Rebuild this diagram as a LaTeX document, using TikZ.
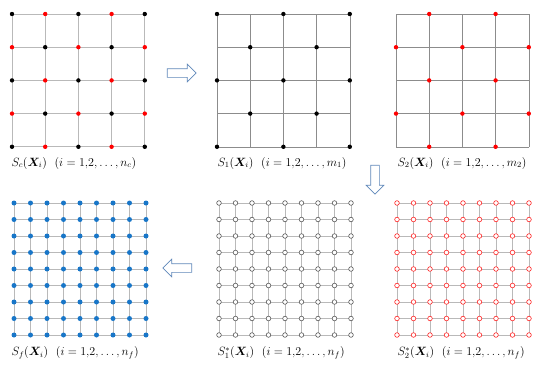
\documentclass[tikz,border=0pt]{standalone}
\usepackage{amsmath,amssymb,bm}
\usetikzlibrary{shapes.arrows}
\definecolor{fblue}{RGB}{24,118,200}
\definecolor{arrowblue}{RGB}{96,136,186}

\begin{document}
\begin{tikzpicture}[x=1pt,y=1pt,
                   gridline/.style={draw=gray!55,line width=0.8pt},
                   darkline/.style={draw=black!45,line width=0.6pt},
                   bdot/.style={circle,fill=black,inner sep=0pt,minimum size=4.4pt},
                   rdot/.style={circle,fill=red,inner sep=0pt,minimum size=4.4pt},
                   fdot/.style={circle,fill=fblue,inner sep=0pt,minimum size=5pt},
                   odot/.style={circle,draw=#1,fill=white,line width=0.6pt,inner sep=0pt,minimum size=4.6pt},
                   bigarrow/.style={single arrow,draw=arrowblue,fill=white,line width=0.7pt,
                     inner sep=4pt,single arrow head extend=4.5pt,minimum height=29pt},
                   lab/.style={anchor=west,font=\fontsize{12}{14}\selectfont}]
\useasboundingbox (0,0) rectangle (550,-372);
% coarse grids (top row)
\foreach \g/\gx in {c/12,a/217,b/396}{
  \foreach \i in {0,...,4}{
    \foreach \j in {0,...,4}{
      \coordinate (\g-\i-\j) at (\gx+33.2*\i,-14-33.2*\j);
    }
  }
}
\foreach \i in {0,...,4}{
  \draw[gridline] (c-\i-0) -- (c-\i-4);
  \draw[gridline] (c-0-\i) -- (c-4-\i);
  \draw[darkline] (a-\i-0) -- (a-\i-4);
  \draw[darkline] (a-0-\i) -- (a-4-\i);
  \draw[darkline] (b-\i-0) -- (b-\i-4);
  \draw[darkline] (b-0-\i) -- (b-4-\i);
}
\foreach \i in {0,...,4}{
  \foreach \j [evaluate=\j as \p using {int(mod(\i+\j,2))}] in {0,...,4}{
    \ifnum\p=0
      \node[bdot] (dc-\i-\j) at (c-\i-\j) {};
      \node[bdot] (da-\i-\j) at (a-\i-\j) {};
    \else
      \node[rdot] (dc-\i-\j) at (c-\i-\j) {};
      \node[rdot] (db-\i-\j) at (b-\i-\j) {};
    \fi
  }
}
% fine grids (bottom row)
\foreach \g/\gx in {f/14,p/219,q/397}{
  \foreach \i in {0,...,8}{
    \foreach \j in {0,...,8}{
      \coordinate (\g-\i-\j) at (\gx+16.5*\i,-203-16.5*\j);
    }
  }
  \foreach \i in {0,...,8}{
    \draw[gridline] (\g-\i-0) -- (\g-\i-8);
    \draw[gridline] (\g-0-\i) -- (\g-8-\i);
  }
}
\foreach \i in {0,...,8}{
  \foreach \j in {0,...,8}{
    \node[fdot] (df-\i-\j) at (f-\i-\j) {};
    \node[odot=black!65] (dp-\i-\j) at (p-\i-\j) {};
    \node[odot=red!85] (dq-\i-\j) at (q-\i-\j) {};
  }
}
% labels
\node[lab] (lc) at (8,-163) {$S_c(\bm{X}_i)\ \ (i=1{,}2,\ldots,n_c)$};
\node[lab] (la) at (214,-163) {$S_1(\bm{X}_i)\ \ (i=1{,}2,\ldots,m_1)$};
\node[lab] (lb) at (394,-163) {$S_2(\bm{X}_i)\ \ (i=1{,}2,\ldots,m_2)$};
\node[lab] (lf) at (8,-353) {$S_f(\bm{X}_i)\ \ (i=1{,}2,\ldots,n_f)$};
\node[lab] (lp) at (214,-353) {$S_1^{*}(\bm{X}_i)\ \ (i=1{,}2,\ldots,n_f)$};
\node[lab] (lq) at (394,-353) {$S_2^{*}(\bm{X}_i)\ \ (i=1{,}2,\ldots,n_f)$};
% block arrows
\node[bigarrow] (ar) at (179.5,-73) {};
\node[bigarrow,shape border rotate=270] (ad) at (375,-177.5) {};
\node[bigarrow,shape border rotate=180] (al) at (179.5,-268) {};
\end{tikzpicture}
\end{document}
